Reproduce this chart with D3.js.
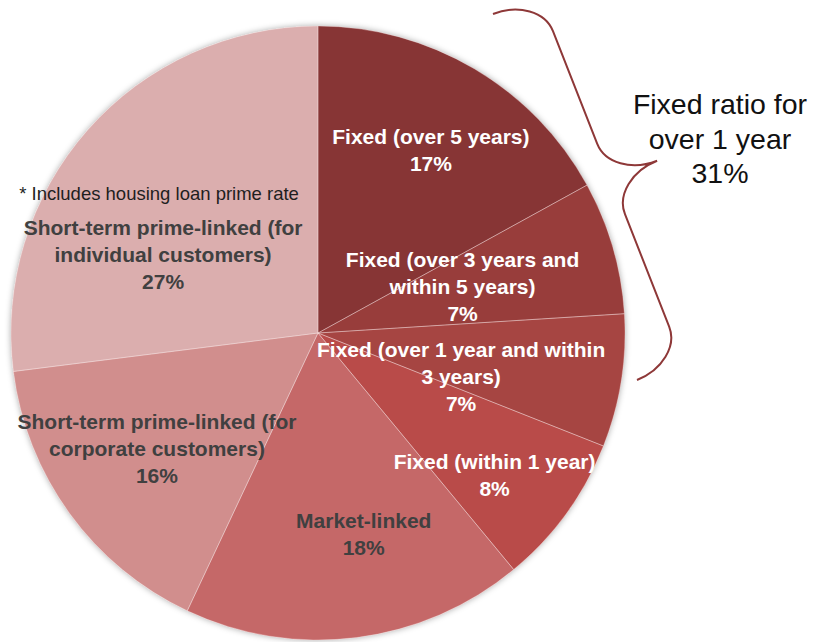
<!DOCTYPE html>
<html>
<head>
<meta charset="utf-8">
<script src="https://cdn.jsdelivr.net/npm/d3@7/dist/d3.min.js"></script>
<style>
  html, body { margin: 0; padding: 0; background: #ffffff; }
  svg { display: block; }
  text { font-family: "Liberation Sans", Arial, Helvetica, sans-serif; }
</style>
</head>
<body>
<svg id="chart" width="815" height="642"></svg>
<script>
// Loan portfolio by interest-rate type (share of total, %)
const categories = [
  "Fixed (over 5 years)",
  "Fixed (over 3 years and within 5 years)",
  "Fixed (over 1 year and within 3 years)",
  "Fixed (within 1 year)",
  "Market-linked",
  "Short-term prime-linked (for corporate customers)",
  "Short-term prime-linked (for individual customers)"
];
const shares = [17, 7, 7, 8, 18, 16, 27];

// Wrapped label lines for each slice (value line is appended)
const labelLines = [
  ["Fixed (over 5 years)"],
  ["Fixed (over 3 years and", "within 5 years)"],
  ["Fixed (over 1 year and within", "3 years)"],
  ["Fixed (within 1 year)"],
  ["Market-linked"],
  ["Short-term prime-linked (for", "corporate customers)"],
  ["Short-term prime-linked (for", "individual customers)"]
];
const footnote = "* Includes housing loan prime rate";

// Bracketed group: the three fixed slices with terms over 1 year
const groupLines = ["Fixed ratio for", "over 1 year"];
const groupShare = 31;

// Styling
const sliceColors = ["#873434", "#983d3b", "#a64543", "#b94c49", "#c56868", "#d18e8d", "#dbaeae"];
const labelColors = ["#ffffff", "#ffffff", "#ffffff", "#ffffff", "#404040", "#404040", "#404040"];
// Label placement: angle nudge from slice middle (deg) and radius as fraction of pie radius
const labelAngleNudge = [1.1, -1.75, 7.8, 2.7, -5.6, 0.3, -14.5];
const labelRadiusFrac = [0.70, 0.495, 0.487, 0.737, 0.672, 0.646, 0.566];

const W = 815, H = 642;
const cx = 318, cy = 333, R = 307;
const fontSize = 21, lineGap = 27;

const svg = d3.select("#chart");

// soft glow around the pie
const defs = svg.append("defs");
const f = defs.append("filter").attr("id", "pieShadow")
  .attr("x", "-10%").attr("y", "-10%").attr("width", "120%").attr("height", "120%");
f.append("feDropShadow").attr("dx", 0).attr("dy", 0).attr("stdDeviation", 3)
  .attr("flood-color", "#000").attr("flood-opacity", 0.35);

const pie = d3.pie().sort(null).value(d => d)
  .startAngle(0).endAngle(2 * Math.PI);
const arcs = pie(shares);
const arc = d3.arc().innerRadius(0).outerRadius(R);

const g = svg.append("g").attr("transform", `translate(${cx},${cy})`);

g.append("g").attr("filter", "url(#pieShadow)")
  .selectAll("path").data(arcs).join("path")
  .attr("d", arc)
  .attr("fill", (d, i) => sliceColors[i]);

// thin pale separators between slices
g.append("g").selectAll("path").data(arcs).join("path")
  .attr("d", arc)
  .attr("fill", "none")
  .attr("stroke", "rgba(255,235,235,0.3)")
  .attr("stroke-width", 1);

// slice labels
const labels = g.append("g").selectAll("text").data(arcs).join("text")
  .attr("text-anchor", "middle")
  .attr("font-size", fontSize)
  .attr("font-weight", "bold")
  .attr("fill", (d, i) => labelColors[i])
  .each(function (d, i) {
    const mid = (d.startAngle + d.endAngle) / 2 + labelAngleNudge[i] * Math.PI / 180;
    const r = R * labelRadiusFrac[i];
    const x = r * Math.sin(mid), y = -r * Math.cos(mid);
    const lines = labelLines[i].concat([d3.format(".0f")(d.data) + "%"]);
    const first = y + 0.36 * fontSize - (lines.length - 1) * lineGap / 2;
    const t = d3.select(this);
    lines.forEach((ln, k) => {
      t.append("tspan").attr("x", x).attr("y", first + k * lineGap).text(ln);
    });
    if (i === 6) {
      g.append("text")
        .attr("x", x - 4)
        .attr("y", first - 34.5)
        .attr("text-anchor", "middle")
        .attr("font-size", 18.5)
        .attr("fill", "#1e1e1e")
        .text(footnote);
    }
  });

// curly brace around the over-1-year fixed slices
const braceStart = [493, 14], braceEnd = [637, 380];
const braceDepth = 99, braceCurl = 38;
const bdx = braceEnd[0] - braceStart[0], bdy = braceEnd[1] - braceStart[1];
const bLen = Math.hypot(bdx, bdy);
const bRot = Math.atan2(bdy, bdx) * 180 / Math.PI - 90;
const hw = braceDepth / 2, hl = bLen / 2;
const braceD = [
  `M0,0`,
  `A${hw},${braceCurl} 0 0 1 ${hw},${braceCurl}`,
  `L${hw},${hl - braceCurl}`,
  `A${hw},${braceCurl} 0 0 0 ${braceDepth},${hl}`,
  `A${hw},${braceCurl} 0 0 0 ${hw},${hl + braceCurl}`,
  `L${hw},${bLen - braceCurl}`,
  `A${hw},${braceCurl} 0 0 1 0,${bLen}`
].join(" ");
svg.append("path")
  .attr("transform", `translate(${braceStart[0]},${braceStart[1]}) rotate(${bRot})`)
  .attr("d", braceD)
  .attr("fill", "none")
  .attr("stroke", "#8e3838")
  .attr("stroke-width", 2);

// group annotation
const ann = svg.append("text")
  .attr("text-anchor", "middle")
  .attr("font-size", 28.5)
  .attr("fill", "#111");
groupLines.concat([groupShare + "%"]).forEach((ln, k) => {
  ann.append("tspan").attr("x", 720).attr("y", 114 + k * 34.5).text(ln);
});
</script>
</body>
</html>
